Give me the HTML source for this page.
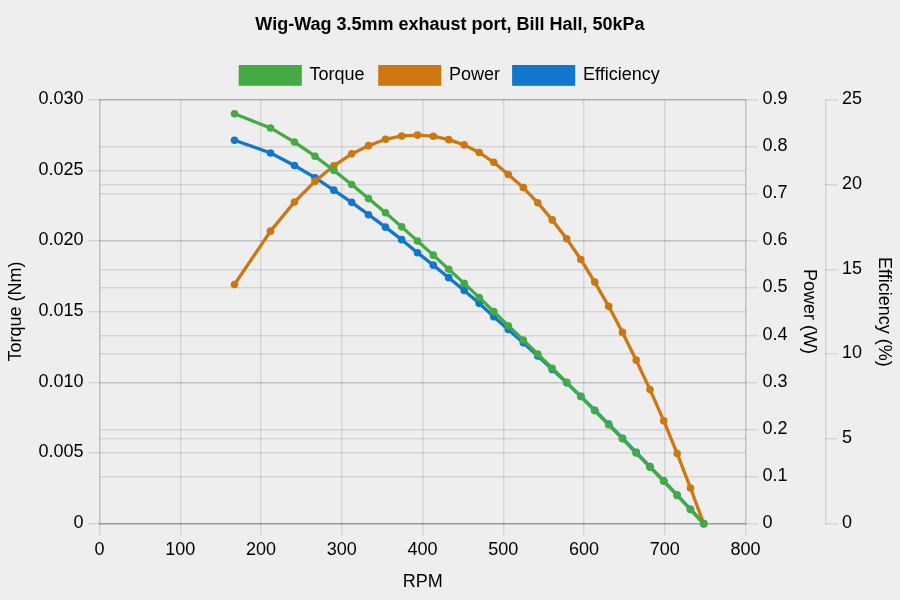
<!DOCTYPE html>
<html><head><meta charset="utf-8"><title>Wig-Wag 3.5mm exhaust port, Bill Hall, 50kPa</title>
<style>
html,body{margin:0;padding:0;background:#eeeeee;}
body{width:900px;height:600px;overflow:hidden;}
svg{display:block;}
text{font-family:"Liberation Sans",Arial,Helvetica,sans-serif;font-size:18px;fill:#000;}
.t{font-weight:bold;}
</style></head><body>
<svg width="900" height="600" viewBox="0 0 900 600">
<rect width="900" height="600" fill="#eeeeee"/>

<rect x="99" y="99.67" width="1.450" height="435.98" fill="rgba(0,0,0,0.1)"/>
<rect x="180" y="99.67" width="1.450" height="435.98" fill="rgba(0,0,0,0.1)"/>
<rect x="260" y="99.67" width="1.450" height="435.98" fill="rgba(0,0,0,0.1)"/>
<rect x="341" y="99.67" width="1.450" height="435.98" fill="rgba(0,0,0,0.1)"/>
<rect x="422" y="99.67" width="1.450" height="435.98" fill="rgba(0,0,0,0.1)"/>
<rect x="503" y="99.67" width="1.450" height="435.98" fill="rgba(0,0,0,0.1)"/>
<rect x="583" y="99.67" width="1.450" height="435.98" fill="rgba(0,0,0,0.1)"/>
<rect x="664" y="99.67" width="1.450" height="435.98" fill="rgba(0,0,0,0.1)"/>
<rect x="745" y="99.67" width="1.450" height="435.98" fill="rgba(0,0,0,0.1)"/>
<rect x="87.80" y="523" width="657.90" height="1.450" fill="rgba(0,0,0,0.1)"/>
<rect x="87.80" y="452" width="657.90" height="1.450" fill="rgba(0,0,0,0.1)"/>
<rect x="87.80" y="382" width="657.90" height="1.450" fill="rgba(0,0,0,0.1)"/>
<rect x="87.80" y="311" width="657.90" height="1.450" fill="rgba(0,0,0,0.1)"/>
<rect x="87.80" y="240" width="657.90" height="1.450" fill="rgba(0,0,0,0.1)"/>
<rect x="87.80" y="170" width="657.90" height="1.450" fill="rgba(0,0,0,0.1)"/>
<rect x="87.80" y="99" width="657.90" height="1.450" fill="rgba(0,0,0,0.1)"/>
<rect x="99.50" y="523" width="658.15" height="1.450" fill="rgba(0,0,0,0.1)"/>
<rect x="99.50" y="476" width="658.15" height="1.450" fill="rgba(0,0,0,0.1)"/>
<rect x="99.50" y="429" width="658.15" height="1.450" fill="rgba(0,0,0,0.1)"/>
<rect x="99.50" y="382" width="658.15" height="1.450" fill="rgba(0,0,0,0.1)"/>
<rect x="99.50" y="335" width="658.15" height="1.450" fill="rgba(0,0,0,0.1)"/>
<rect x="99.50" y="287" width="658.15" height="1.450" fill="rgba(0,0,0,0.1)"/>
<rect x="99.50" y="240" width="658.15" height="1.450" fill="rgba(0,0,0,0.1)"/>
<rect x="99.50" y="193" width="658.15" height="1.450" fill="rgba(0,0,0,0.1)"/>
<rect x="99.50" y="146" width="658.15" height="1.450" fill="rgba(0,0,0,0.1)"/>
<rect x="99.50" y="99" width="658.15" height="1.450" fill="rgba(0,0,0,0.1)"/>
<rect x="99.50" y="523" width="646.20" height="1.450" fill="rgba(0,0,0,0.1)"/>
<rect x="825.00" y="523" width="12.65" height="1.450" fill="rgba(0,0,0,0.1)"/>
<rect x="99.50" y="438" width="646.20" height="1.450" fill="rgba(0,0,0,0.1)"/>
<rect x="825.00" y="438" width="12.65" height="1.450" fill="rgba(0,0,0,0.1)"/>
<rect x="99.50" y="353" width="646.20" height="1.450" fill="rgba(0,0,0,0.1)"/>
<rect x="825.00" y="353" width="12.65" height="1.450" fill="rgba(0,0,0,0.1)"/>
<rect x="99.50" y="269" width="646.20" height="1.450" fill="rgba(0,0,0,0.1)"/>
<rect x="825.00" y="269" width="12.65" height="1.450" fill="rgba(0,0,0,0.1)"/>
<rect x="99.50" y="184" width="646.20" height="1.450" fill="rgba(0,0,0,0.1)"/>
<rect x="825.00" y="184" width="12.65" height="1.450" fill="rgba(0,0,0,0.1)"/>
<rect x="99.50" y="99" width="646.20" height="1.450" fill="rgba(0,0,0,0.1)"/>
<rect x="825.00" y="99" width="12.65" height="1.450" fill="rgba(0,0,0,0.1)"/>
<rect x="99" y="99.00" width="1.450" height="425.45" fill="rgba(0,0,0,0.1)"/>
<rect x="99.00" y="523" width="647.45" height="1.450" fill="rgba(0,0,0,0.1)"/>
<rect x="745" y="99.00" width="1.450" height="425.45" fill="rgba(0,0,0,0.1)"/>
<rect x="825" y="99.00" width="1.450" height="425.45" fill="rgba(0,0,0,0.1)"/>
<polyline points="234.50,140.20 270.50,152.94 294.50,165.47 315.00,177.70 333.80,190.14 351.70,202.37 368.50,214.70 385.50,227.14 401.70,239.67 417.50,252.70 433.30,265.14 448.70,277.67 464.20,290.40 479.20,303.34 493.80,316.67 508.30,329.50 523.30,342.74 537.80,356.07 552.20,369.40 566.70,382.84 580.80,396.37 594.70,410.20 608.70,424.14 622.50,438.27 636.20,452.40 650.00,466.54 663.70,480.77 677.20,495.10 690.50,509.34 703.70,523.67" fill="none" stroke="#1177cc" stroke-width="3.3" stroke-linejoin="round" stroke-linecap="butt"/>
<circle cx="234.50" cy="140.20" r="3.8" fill="#1177cc"/>
<circle cx="270.50" cy="152.94" r="3.8" fill="#1177cc"/>
<circle cx="294.50" cy="165.47" r="3.8" fill="#1177cc"/>
<circle cx="315.00" cy="177.70" r="3.8" fill="#1177cc"/>
<circle cx="333.80" cy="190.14" r="3.8" fill="#1177cc"/>
<circle cx="351.70" cy="202.37" r="3.8" fill="#1177cc"/>
<circle cx="368.50" cy="214.70" r="3.8" fill="#1177cc"/>
<circle cx="385.50" cy="227.14" r="3.8" fill="#1177cc"/>
<circle cx="401.70" cy="239.67" r="3.8" fill="#1177cc"/>
<circle cx="417.50" cy="252.70" r="3.8" fill="#1177cc"/>
<circle cx="433.30" cy="265.14" r="3.8" fill="#1177cc"/>
<circle cx="448.70" cy="277.67" r="3.8" fill="#1177cc"/>
<circle cx="464.20" cy="290.40" r="3.8" fill="#1177cc"/>
<circle cx="479.20" cy="303.34" r="3.8" fill="#1177cc"/>
<circle cx="493.80" cy="316.67" r="3.8" fill="#1177cc"/>
<circle cx="508.30" cy="329.50" r="3.8" fill="#1177cc"/>
<circle cx="523.30" cy="342.74" r="3.8" fill="#1177cc"/>
<circle cx="537.80" cy="356.07" r="3.8" fill="#1177cc"/>
<circle cx="552.20" cy="369.40" r="3.8" fill="#1177cc"/>
<circle cx="566.70" cy="382.84" r="3.8" fill="#1177cc"/>
<circle cx="580.80" cy="396.37" r="3.8" fill="#1177cc"/>
<circle cx="594.70" cy="410.20" r="3.8" fill="#1177cc"/>
<circle cx="608.70" cy="424.14" r="3.8" fill="#1177cc"/>
<circle cx="622.50" cy="438.27" r="3.8" fill="#1177cc"/>
<circle cx="636.20" cy="452.40" r="3.8" fill="#1177cc"/>
<circle cx="650.00" cy="466.54" r="3.8" fill="#1177cc"/>
<circle cx="663.70" cy="480.77" r="3.8" fill="#1177cc"/>
<circle cx="677.20" cy="495.10" r="3.8" fill="#1177cc"/>
<circle cx="690.50" cy="509.34" r="3.8" fill="#1177cc"/>
<circle cx="703.70" cy="523.67" r="3.8" fill="#1177cc"/>
<polyline points="234.50,284.48 270.50,231.14 294.50,202.00 315.00,181.35 333.80,165.80 351.70,153.87 368.50,145.67 385.50,139.26 401.70,135.95 417.50,135.10 433.30,136.19 448.70,139.65 464.20,144.88 479.20,152.50 493.80,162.32 508.30,174.46 523.30,187.52 537.80,202.78 552.20,219.88 566.70,238.68 580.80,259.47 594.70,282.08 608.70,306.35 622.50,332.40 636.20,360.17 650.00,389.59 663.70,420.71 677.20,453.53 690.50,488.01 703.70,523.67" fill="none" stroke="#cc7711" stroke-width="3.3" stroke-linejoin="round" stroke-linecap="butt"/>
<circle cx="234.50" cy="284.48" r="3.8" fill="#cc7711"/>
<circle cx="270.50" cy="231.14" r="3.8" fill="#cc7711"/>
<circle cx="294.50" cy="202.00" r="3.8" fill="#cc7711"/>
<circle cx="315.00" cy="181.35" r="3.8" fill="#cc7711"/>
<circle cx="333.80" cy="165.80" r="3.8" fill="#cc7711"/>
<circle cx="351.70" cy="153.87" r="3.8" fill="#cc7711"/>
<circle cx="368.50" cy="145.67" r="3.8" fill="#cc7711"/>
<circle cx="385.50" cy="139.26" r="3.8" fill="#cc7711"/>
<circle cx="401.70" cy="135.95" r="3.8" fill="#cc7711"/>
<circle cx="417.50" cy="135.10" r="3.8" fill="#cc7711"/>
<circle cx="433.30" cy="136.19" r="3.8" fill="#cc7711"/>
<circle cx="448.70" cy="139.65" r="3.8" fill="#cc7711"/>
<circle cx="464.20" cy="144.88" r="3.8" fill="#cc7711"/>
<circle cx="479.20" cy="152.50" r="3.8" fill="#cc7711"/>
<circle cx="493.80" cy="162.32" r="3.8" fill="#cc7711"/>
<circle cx="508.30" cy="174.46" r="3.8" fill="#cc7711"/>
<circle cx="523.30" cy="187.52" r="3.8" fill="#cc7711"/>
<circle cx="537.80" cy="202.78" r="3.8" fill="#cc7711"/>
<circle cx="552.20" cy="219.88" r="3.8" fill="#cc7711"/>
<circle cx="566.70" cy="238.68" r="3.8" fill="#cc7711"/>
<circle cx="580.80" cy="259.47" r="3.8" fill="#cc7711"/>
<circle cx="594.70" cy="282.08" r="3.8" fill="#cc7711"/>
<circle cx="608.70" cy="306.35" r="3.8" fill="#cc7711"/>
<circle cx="622.50" cy="332.40" r="3.8" fill="#cc7711"/>
<circle cx="636.20" cy="360.17" r="3.8" fill="#cc7711"/>
<circle cx="650.00" cy="389.59" r="3.8" fill="#cc7711"/>
<circle cx="663.70" cy="420.71" r="3.8" fill="#cc7711"/>
<circle cx="677.20" cy="453.53" r="3.8" fill="#cc7711"/>
<circle cx="690.50" cy="488.01" r="3.8" fill="#cc7711"/>
<circle cx="703.70" cy="523.67" r="3.8" fill="#cc7711"/>
<polyline points="234.50,113.80 270.50,127.94 294.50,142.07 315.00,156.20 333.80,170.34 351.70,184.47 368.50,198.60 385.50,212.74 401.70,226.87 417.50,241.00 433.30,255.14 448.70,269.27 464.20,283.40 479.20,297.54 493.80,311.67 508.30,325.80 523.30,339.94 537.80,354.07 552.20,368.20 566.70,382.34 580.80,396.47 594.70,410.60 608.70,424.74 622.50,438.87 636.20,453.00 650.00,467.14 663.70,481.27 677.20,495.40 690.50,509.54 703.70,523.67" fill="none" stroke="#44aa44" stroke-width="3.3" stroke-linejoin="round" stroke-linecap="butt"/>
<circle cx="234.50" cy="113.80" r="3.8" fill="#44aa44"/>
<circle cx="270.50" cy="127.94" r="3.8" fill="#44aa44"/>
<circle cx="294.50" cy="142.07" r="3.8" fill="#44aa44"/>
<circle cx="315.00" cy="156.20" r="3.8" fill="#44aa44"/>
<circle cx="333.80" cy="170.34" r="3.8" fill="#44aa44"/>
<circle cx="351.70" cy="184.47" r="3.8" fill="#44aa44"/>
<circle cx="368.50" cy="198.60" r="3.8" fill="#44aa44"/>
<circle cx="385.50" cy="212.74" r="3.8" fill="#44aa44"/>
<circle cx="401.70" cy="226.87" r="3.8" fill="#44aa44"/>
<circle cx="417.50" cy="241.00" r="3.8" fill="#44aa44"/>
<circle cx="433.30" cy="255.14" r="3.8" fill="#44aa44"/>
<circle cx="448.70" cy="269.27" r="3.8" fill="#44aa44"/>
<circle cx="464.20" cy="283.40" r="3.8" fill="#44aa44"/>
<circle cx="479.20" cy="297.54" r="3.8" fill="#44aa44"/>
<circle cx="493.80" cy="311.67" r="3.8" fill="#44aa44"/>
<circle cx="508.30" cy="325.80" r="3.8" fill="#44aa44"/>
<circle cx="523.30" cy="339.94" r="3.8" fill="#44aa44"/>
<circle cx="537.80" cy="354.07" r="3.8" fill="#44aa44"/>
<circle cx="552.20" cy="368.20" r="3.8" fill="#44aa44"/>
<circle cx="566.70" cy="382.34" r="3.8" fill="#44aa44"/>
<circle cx="580.80" cy="396.47" r="3.8" fill="#44aa44"/>
<circle cx="594.70" cy="410.60" r="3.8" fill="#44aa44"/>
<circle cx="608.70" cy="424.74" r="3.8" fill="#44aa44"/>
<circle cx="622.50" cy="438.87" r="3.8" fill="#44aa44"/>
<circle cx="636.20" cy="453.00" r="3.8" fill="#44aa44"/>
<circle cx="650.00" cy="467.14" r="3.8" fill="#44aa44"/>
<circle cx="663.70" cy="481.27" r="3.8" fill="#44aa44"/>
<circle cx="677.20" cy="495.40" r="3.8" fill="#44aa44"/>
<circle cx="690.50" cy="509.54" r="3.8" fill="#44aa44"/>
<circle cx="703.70" cy="523.67" r="3.8" fill="#44aa44"/>
<text class="t" x="450" y="30.2" text-anchor="middle">Wig-Wag 3.5mm exhaust port, Bill Hall, 50kPa</text>
<rect x="238.7" y="65" width="63.1" height="20.8" fill="#44aa44"/>
<text x="309.5" y="80">Torque</text>
<rect x="378.2" y="65" width="63.1" height="20.8" fill="#cc7711"/>
<text x="449" y="80">Power</text>
<rect x="512.1" y="65" width="63.1" height="20.8" fill="#1177cc"/>
<text x="583" y="80">Efficiency</text>
<text x="83.5" y="527.97" text-anchor="end">0</text>
<text x="83.5" y="457.30" text-anchor="end">0.005</text>
<text x="83.5" y="386.64" text-anchor="end">0.010</text>
<text x="83.5" y="315.97" text-anchor="end">0.015</text>
<text x="83.5" y="245.30" text-anchor="end">0.020</text>
<text x="83.5" y="174.64" text-anchor="end">0.025</text>
<text x="83.5" y="103.97" text-anchor="end">0.030</text>
<text x="762.5" y="527.97">0</text>
<text x="762.5" y="480.86">0.1</text>
<text x="762.5" y="433.75">0.2</text>
<text x="762.5" y="386.64">0.3</text>
<text x="762.5" y="339.53">0.4</text>
<text x="762.5" y="292.41">0.5</text>
<text x="762.5" y="245.30">0.6</text>
<text x="762.5" y="198.19">0.7</text>
<text x="762.5" y="151.08">0.8</text>
<text x="762.5" y="103.97">0.9</text>
<text x="842" y="527.97">0</text>
<text x="842" y="443.17">5</text>
<text x="842" y="358.37">10</text>
<text x="842" y="273.57">15</text>
<text x="842" y="188.77">20</text>
<text x="842" y="103.97">25</text>
<text x="99.50" y="555" text-anchor="middle">0</text>
<text x="180.25" y="555" text-anchor="middle">100</text>
<text x="261.00" y="555" text-anchor="middle">200</text>
<text x="341.75" y="555" text-anchor="middle">300</text>
<text x="422.50" y="555" text-anchor="middle">400</text>
<text x="503.25" y="555" text-anchor="middle">500</text>
<text x="584.00" y="555" text-anchor="middle">600</text>
<text x="664.75" y="555" text-anchor="middle">700</text>
<text x="745.50" y="555" text-anchor="middle">800</text>
<text x="422.8" y="587" text-anchor="middle">RPM</text>
<text transform="translate(21,311.5) rotate(-90)" text-anchor="middle">Torque (Nm)</text>
<text transform="translate(804.2,311.5) rotate(90)" text-anchor="middle">Power (W)</text>
<text transform="translate(879.4,311.8) rotate(90)" text-anchor="middle">Efficiency (%)</text>
</svg></body></html>
